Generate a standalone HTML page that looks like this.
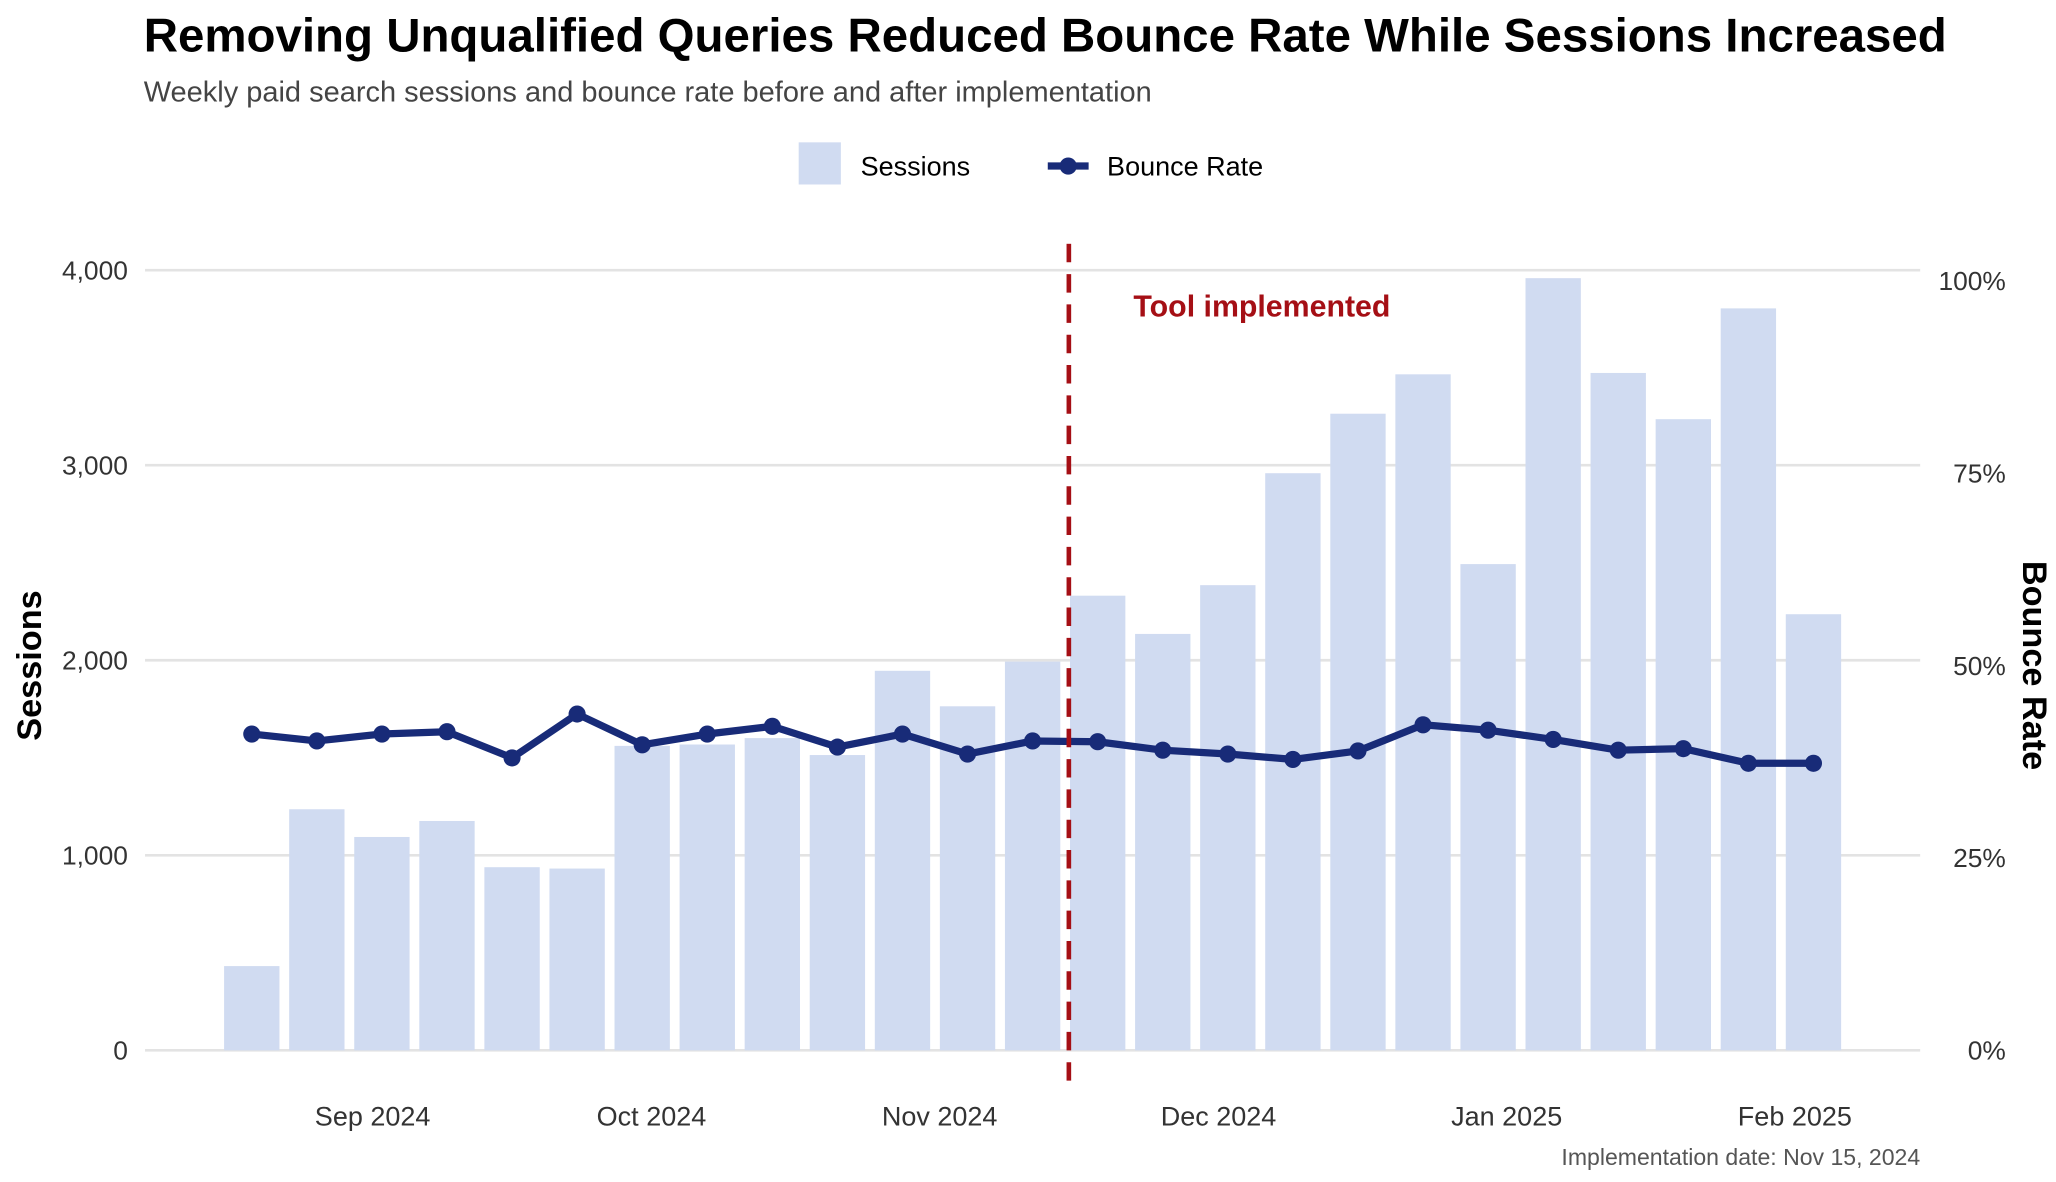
<!DOCTYPE html>
<html><head><meta charset="utf-8"><style>
html,body{margin:0;padding:0;background:#fff;}
svg{display:block;font-family:"Liberation Sans",Arial,sans-serif;}
</style></head><body>
<svg id="chart" width="2056" height="1182" viewBox="0 0 1560 896.9" xmlns="http://www.w3.org/2000/svg">
<text x="109" y="39" font-size="36" font-weight="bold" fill="#000">Removing Unqualified Queries Reduced Bounce Rate While Sessions Increased</text>
<text x="109" y="77" font-size="22" fill="#444">Weekly paid search sessions and bounce rate before and after implementation</text>
<g>
<rect x="606" y="108" width="32" height="32" fill="#d0dbf1"/>
<text x="653" y="133" font-size="20.5" fill="#000">Sessions</text>
<line x1="795" y1="126" x2="826" y2="126" stroke="#182b78" stroke-width="5.5"/>
<circle cx="810.5" cy="126" r="6.5" fill="#182b78"/>
<text x="840" y="133" font-size="20.5" fill="#000">Bounce Rate</text>
</g>
<g id="grid"></g>
<g id="bars"></g>
<g id="line"></g>
<g id="axes"></g>
<line x1="811" y1="185" x2="811" y2="827" stroke="#a50f15" stroke-width="3.5" stroke-dasharray="14,9"/>
<text x="860" y="240" font-size="23" font-weight="bold" fill="#a50f15">Tool implemented</text>
<text transform="translate(31,505) rotate(-90)" text-anchor="middle" font-size="26" font-weight="bold" fill="#000">Sessions</text>
<text transform="translate(1535,505) rotate(90)" text-anchor="middle" font-size="26" font-weight="bold" fill="#000">Bounce Rate</text>
<text x="1457" y="884" text-anchor="end" font-size="17.5" fill="#555">Implementation date: Nov 15, 2024</text>
</svg>
<script>
const weekStarts = ["2024-08-19","2024-08-26","2024-09-02","2024-09-09","2024-09-16","2024-09-23","2024-09-30","2024-10-07","2024-10-14","2024-10-21","2024-10-28","2024-11-04","2024-11-11","2024-11-18","2024-11-25","2024-12-02","2024-12-09","2024-12-16","2024-12-23","2024-12-30","2025-01-06","2025-01-13","2025-01-20","2025-01-27","2025-02-03"];
const sessions = [432,1236,1094,1176,939,932,1561,1568,1601,1514,1946,1764,1993,2331,2135,2385,2959,3264,3466,2493,3959,3473,3236,3804,2236];
const bounceRate = [41.1,40.2,41.1,41.4,38.0,43.7,39.7,41.1,42.1,39.4,41.1,38.5,40.2,40.1,39.0,38.5,37.8,38.9,42.3,41.6,40.4,39.0,39.2,37.3,37.3];
const leftTicks = [0,1000,2000,3000,4000];
const leftTickLabels = ["0","1,000","2,000","3,000","4,000"];
const rightTicks = [0,25,50,75,100];
const rightTickLabels = ["0%","25%","50%","75%","100%"];
const monthTicks = ["2024-09-01","2024-10-01","2024-11-01","2024-12-01","2025-01-01","2025-02-01"];
const monthLabels = ["Sep 2024","Oct 2024","Nov 2024","Dec 2024","Jan 2025","Feb 2025"];

const NS="http://www.w3.org/2000/svg";
const day=86400000, t0=Date.parse("2024-08-19"), px0=191, pxPerDay=49.375/7;
function xScale(d){return px0+(Date.parse(d)-t0)/day*pxPerDay;}
function yLeft(v){return 797-v*0.148;}
function yRight(v){return 797-v*5.84;}
function mk(tag,attrs,parent){const e=document.createElementNS(NS,tag);for(const k in attrs)e.setAttribute(k,attrs[k]);parent.appendChild(e);return e;}
const grid=document.getElementById('grid'),bars=document.getElementById('bars'),lineG=document.getElementById('line'),axes=document.getElementById('axes');
leftTicks.forEach((v,i)=>{
  const l=mk('line',{x1:110,x2:1457,y1:yLeft(v),y2:yLeft(v),stroke:'#e3e3e3','stroke-width':2},grid);
  
  
  const t=mk('text',{x:97,y:yLeft(v)+7,'text-anchor':'end','font-size':20,fill:'#333'},axes);
  
  
  t.textContent=leftTickLabels[i];
});
rightTicks.forEach((v,i)=>{
  const t=mk('text',{x:1522,y:yRight(v)+7,'text-anchor':'end','font-size':20,fill:'#333'},axes);
  
  
  t.textContent=rightTickLabels[i];
});
monthTicks.forEach((d,i)=>{
  const t=mk('text',{x:xScale(d),y:854,'text-anchor':'middle','font-size':20.5,fill:'#333'},axes);
  
  
  t.textContent=monthLabels[i];
});
const bw=42;
weekStarts.forEach((d,i)=>{
  const r=mk('rect',{x:xScale(d)-bw/2,y:yLeft(sessions[i]),width:bw,height:yLeft(0)-yLeft(sessions[i]),fill:'#d0dbf1'},bars);
  
  
});
const pts=weekStarts.map((d,i)=>xScale(d)+','+yRight(bounceRate[i])).join(' ');
const pl=mk('polyline',{points:pts,fill:'none',stroke:'#182b78','stroke-width':5.5,'stroke-linejoin':'round'},lineG);


weekStarts.forEach((d,i)=>{
  const c=mk('circle',{cx:xScale(d),cy:yRight(bounceRate[i]),r:6.5,fill:'#182b78'},lineG);
  
  
});
</script>
</body></html>
